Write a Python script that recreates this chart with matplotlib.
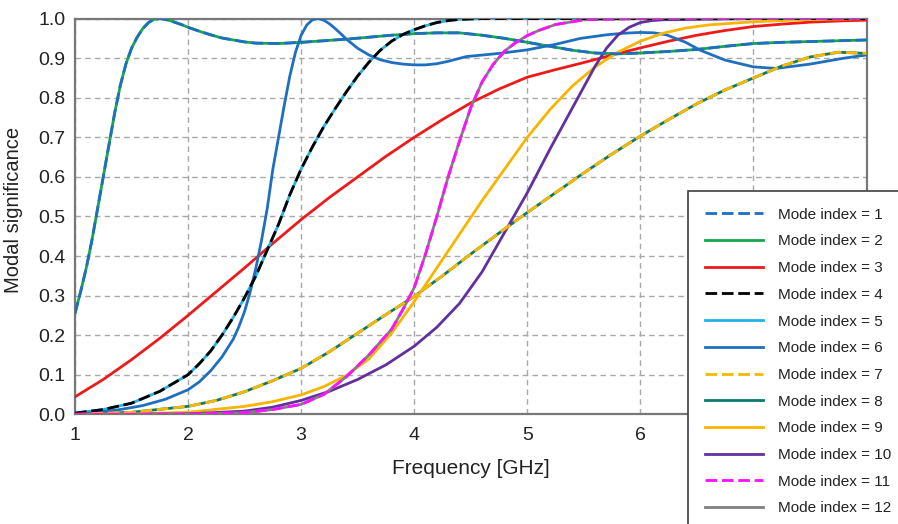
import matplotlib
matplotlib.use("Agg")
import matplotlib.pyplot as plt

plt.rcParams['font.family'] = ['Liberation Sans', 'DejaVu Sans']

# ---- data ----
f12 = [1.0, 1.05, 1.1, 1.15, 1.2, 1.25, 1.3, 1.35, 1.4, 1.45, 1.5, 1.55, 1.6, 1.65, 1.7, 1.75, 1.8,
       1.85, 1.9, 1.95, 2.0, 2.1, 2.2, 2.3, 2.4, 2.5, 2.6, 2.8, 3.0, 3.2, 3.4, 3.6, 3.8, 4.0, 4.2,
       4.4, 4.6, 4.8, 5.0, 5.2, 5.4, 5.6, 5.8, 6.0, 6.25, 6.5, 6.75, 7.0, 7.25, 7.5, 7.75, 8.0]
m12 = [0.255, 0.31, 0.37, 0.44, 0.52, 0.60, 0.68, 0.76, 0.83, 0.885, 0.925, 0.953, 0.975, 0.99, 0.998,
       1.0, 0.998, 0.994, 0.989, 0.984, 0.978, 0.968, 0.959, 0.951, 0.946, 0.941, 0.938, 0.937, 0.94,
       0.944, 0.948, 0.953, 0.958, 0.962, 0.964, 0.964, 0.958, 0.95, 0.94, 0.93, 0.92, 0.913, 0.911,
       0.913, 0.917, 0.922, 0.93, 0.937, 0.94, 0.942, 0.944, 0.946]

f3 = [1.0, 1.25, 1.5, 1.75, 2.0, 2.25, 2.5, 2.75, 3.0, 3.25, 3.5, 3.75, 4.0, 4.25, 4.5, 4.75, 5.0,
      5.25, 5.5, 5.75, 6.0, 6.25, 6.5, 6.75, 7.0, 7.25, 7.5, 7.75, 8.0]
m3 = [0.044, 0.088, 0.138, 0.192, 0.25, 0.31, 0.37, 0.432, 0.492, 0.548, 0.60, 0.652, 0.70, 0.745,
      0.787, 0.822, 0.852, 0.871, 0.889, 0.908, 0.926, 0.943, 0.958, 0.970, 0.98, 0.986, 0.991, 0.994,
      0.996]

f45 = [1.0, 1.25, 1.5, 1.75, 2.0, 2.1, 2.2, 2.3, 2.4, 2.5, 2.6, 2.7, 2.8, 2.9, 3.0, 3.1, 3.2, 3.3,
       3.4, 3.5, 3.6, 3.7, 3.8, 3.9, 4.0, 4.1, 4.2, 4.3, 4.4, 4.6, 5.0, 6.0, 7.0, 8.0]
m45 = [0.003, 0.012, 0.028, 0.058, 0.10, 0.128, 0.16, 0.20, 0.245, 0.295, 0.35, 0.415, 0.48, 0.555,
       0.62, 0.676, 0.727, 0.772, 0.815, 0.855, 0.89, 0.92, 0.943, 0.96, 0.972, 0.982, 0.99, 0.995,
       0.998, 1.0, 1.0, 1.0, 1.0, 1.0]

f6 = [1.0, 1.2, 1.4, 1.6, 1.8, 2.0, 2.1, 2.2, 2.3, 2.4, 2.45, 2.5, 2.55, 2.6, 2.65, 2.7, 2.75, 2.8,
      2.85, 2.9, 2.95, 3.0, 3.05, 3.1, 3.15, 3.2, 3.25, 3.3, 3.35, 3.4, 3.5, 3.6, 3.7, 3.8, 3.9, 4.0,
      4.1, 4.2, 4.3, 4.46, 4.75, 5.0, 5.25, 5.47, 5.7, 5.85, 6.0, 6.12, 6.23, 6.4, 6.53, 6.75, 7.0,
      7.2, 7.5, 7.8, 8.0]
m6 = [0.0, 0.005, 0.012, 0.022, 0.038, 0.062, 0.082, 0.11, 0.145, 0.19, 0.222, 0.26, 0.31, 0.37,
      0.44, 0.52, 0.62, 0.70, 0.78, 0.855, 0.915, 0.958, 0.984, 0.997, 1.0, 0.996, 0.987, 0.975, 0.962,
      0.948, 0.925, 0.908, 0.896, 0.889, 0.885, 0.883, 0.883, 0.886, 0.892, 0.904, 0.912, 0.921, 0.935,
      0.95, 0.959, 0.963, 0.965, 0.964, 0.959, 0.94, 0.92, 0.895, 0.878, 0.874, 0.885, 0.90, 0.908]

f78 = [1.0, 1.5, 2.0, 2.25, 2.5, 2.75, 3.0, 3.25, 3.5, 3.75, 4.0, 4.25, 4.5, 4.75, 5.0, 5.25, 5.5,
       5.75, 6.0, 6.25, 6.5, 6.75, 7.0, 7.25, 7.5, 7.75, 8.0]
m78 = [0.0, 0.005, 0.02, 0.035, 0.057, 0.085, 0.116, 0.158, 0.205, 0.252, 0.298, 0.35, 0.405, 0.458,
       0.51, 0.56, 0.61, 0.658, 0.703, 0.745, 0.785, 0.82, 0.85, 0.88, 0.903, 0.915, 0.912]

f9 = [1.0, 1.5, 2.0, 2.5, 2.75, 3.0, 3.2, 3.4, 3.6, 3.8, 4.0, 4.2, 4.4, 4.6, 4.8, 5.0, 5.2, 5.4, 5.6,
      5.8, 6.0, 6.2, 6.4, 6.6, 7.0, 7.5, 8.0]
m9 = [0.0, 0.001, 0.005, 0.02, 0.032, 0.049, 0.07, 0.098, 0.14, 0.205, 0.285, 0.37, 0.455, 0.54, 0.62,
      0.70, 0.77, 0.83, 0.878, 0.915, 0.943, 0.963, 0.976, 0.984, 0.992, 0.998, 1.0]

f10 = [1.0, 2.0, 2.5, 2.75, 3.0, 3.25, 3.5, 3.75, 4.0, 4.2, 4.4, 4.6, 4.8, 5.0, 5.2, 5.4, 5.6, 5.7,
       5.8, 5.9, 6.0, 6.1, 6.2, 6.5, 7.0, 8.0]
m10 = [0.0, 0.001, 0.008, 0.018, 0.035, 0.058, 0.088, 0.125, 0.172, 0.22, 0.28, 0.36, 0.46, 0.56, 0.67,
       0.775, 0.88, 0.925, 0.958, 0.978, 0.99, 0.995, 0.997, 0.998, 1.0, 1.0]

f1112 = [1.0, 2.0, 2.5, 2.75, 3.0, 3.2, 3.4, 3.6, 3.8, 3.9, 4.0, 4.1, 4.2, 4.3, 4.4, 4.5, 4.6, 4.7,
         4.8, 4.9, 5.0, 5.1, 5.25, 5.5, 6.0, 8.0]
m1112 = [0.0, 0.0, 0.004, 0.012, 0.025, 0.05, 0.095, 0.15, 0.215, 0.265, 0.32, 0.405, 0.50, 0.60, 0.69,
         0.775, 0.84, 0.885, 0.918, 0.94, 0.957, 0.97, 0.985, 0.997, 1.0, 1.0]

labels = [f"Mode index = {i}" for i in range(1, 13)]
xticks = [1, 2, 3, 4, 5, 6, 7, 8]
xticklabels = ['1', '2', '3', '4', '5', '6', '', '']   # 7 and 8 are hidden behind the legend
yticks = [0.0, 0.1, 0.2, 0.3, 0.4, 0.5, 0.6, 0.7, 0.8, 0.9, 1.0]

# ---- plot ----
fig = plt.figure(figsize=(8.98, 5.24), dpi=100)
ax = fig.add_axes([0.0835, 0.2094, 0.8815, 0.7551])

LW = 2.0
dash = (0, (4.2, 1.7))
series = [
    (f12, m12, '#1f6fc0', dash, 4),      # 1
    (f12, m12, '#14a84a', '-', 3),       # 2
    (f3, m3, '#ee1a1a', '-', 3),         # 3
    (f45, m45, '#000000', dash, 4),      # 4
    (f45, m45, '#22b2e8', '-', 3),       # 5
    (f6, m6, '#1f6fc0', '-', 3),         # 6
    (f78, m78, '#f7b800', dash, 4),      # 7
    (f78, m78, '#0b7a6c', '-', 3),       # 8
    (f9, m9, '#f7b500', '-', 3),         # 9
    (f10, m10, '#62309e', '-', 3),       # 10
    (f1112, m1112, '#ff10ff', dash, 4),  # 11
    (f1112, m1112, '#808080', '-', 3),   # 12
]
handles = []
for (x, y, c, ls, z), lab in zip(series, labels):
    h, = ax.plot(x, y, color=c, linestyle=ls, lw=LW, zorder=z, label=lab,
                 solid_joinstyle='round', dash_joinstyle='round')
    handles.append(h)

ax.set_xlim(1, 8)
ax.set_ylim(0, 1)
ax.set_xticks(xticks)
ax.set_xticklabels(xticklabels)
ax.set_yticks(yticks)
ax.set_yticklabels([f"{v:.1f}" for v in yticks])
ax.grid(True, color='#a8a8a8', linestyle=(0, (4, 3)), lw=1.0)
ax.tick_params(length=0, labelsize=14, colors='#222222', pad=7)
ax.tick_params(axis='x', pad=9)
for s in ax.spines.values():
    s.set_color('#787878')
    s.set_linewidth(1.6)
ax.set_xlabel('Frequency [GHz]', fontsize=15, color='#222222', labelpad=11)
ax.set_ylabel('Modal significance', fontsize=14.5, color='#222222')
ax.yaxis.set_label_coords(-0.066, 0.516)

leg = fig.legend(handles=handles, loc='upper left', bbox_to_anchor=(0.766, 0.6355),
                 bbox_transform=fig.transFigure, borderaxespad=0, fontsize=11,
                 fancybox=False, framealpha=1, edgecolor='#404040',
                 handlelength=3.8, handletextpad=1.0, labelspacing=0.83, borderpad=1.1)
leg.get_frame().set_linewidth(1.2)
for t in leg.get_texts():
    t.set_color('#222222')

fig.savefig('out.png', dpi=100)
